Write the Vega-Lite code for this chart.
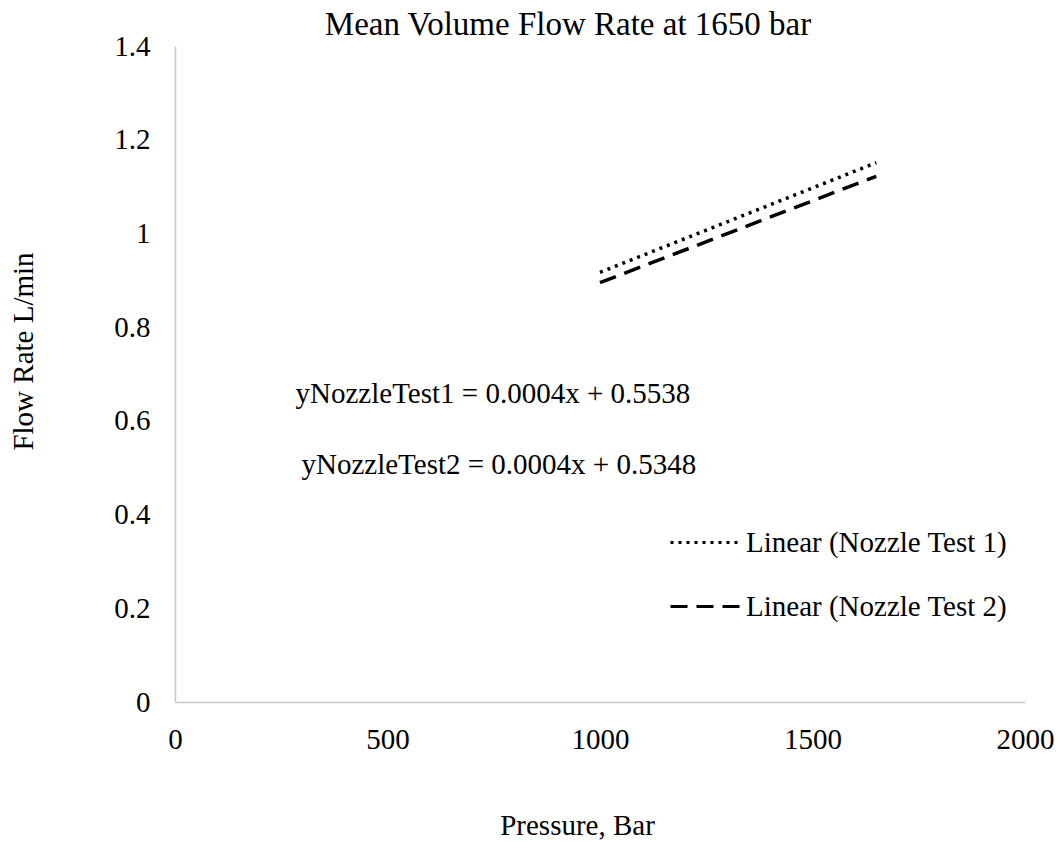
{
  "$schema": "https://vega.github.io/schema/vega-lite/v6.json",
  "width": 850,
  "height": 656,
  "autosize": {"type": "none"},
  "padding": {"left": 175, "top": 46, "right": 35, "bottom": 140},
  "background": "white",
  "config": {
    "font": "Liberation Serif",
    "view": {"stroke": null},
    "axis": {"grid": false, "ticks": false, "domainColor": "#c8c8c8", "domainWidth": 1.5, "labelFont": "Liberation Serif", "labelFontSize": 29, "labelColor": "#000000", "titleFont": "Liberation Serif", "titleFontSize": 29, "titleFontWeight": "normal", "titleColor": "#000000"},
    "legend": {"labelFont": "Liberation Serif", "labelFontSize": 29, "labelColor": "#000000", "labelLimit": 500}
  },
  "title": {"text": "Mean Volume Flow Rate at 1650 bar", "font": "Liberation Serif", "fontSize": 33, "fontWeight": "normal", "color": "#000000", "anchor": "middle", "frame": "group", "baseline": "alphabetic", "offset": -36, "dx": -32},
  "layer": [
    {
      "data": {"values": [
        {"series": "Linear (Nozzle Test 1)", "pressure": 1000, "flow": 0.917},
        {"series": "Linear (Nozzle Test 1)", "pressure": 1650, "flow": 1.151},
        {"series": "Linear (Nozzle Test 2)", "pressure": 1000, "flow": 0.895},
        {"series": "Linear (Nozzle Test 2)", "pressure": 1650, "flow": 1.122}
      ]},
      "mark": {"type": "line", "color": "#000000", "strokeWidth": 3.5},
      "encoding": {
        "x": {"field": "pressure", "type": "quantitative", "scale": {"domain": [0, 2000], "nice": false}, "axis": {"values": [0, 500, 1000, 1500, 2000], "format": "d", "labelFlush": false, "labelPadding": 46, "labelBaseline": "alphabetic", "title": "Pressure, Bar", "titleX": 402, "titleY": 132, "titleAlign": "center", "titleBaseline": "alphabetic"}},
        "y": {"field": "flow", "type": "quantitative", "scale": {"domain": [0, 1.4], "nice": false}, "axis": {"values": [0, 0.2, 0.4, 0.6, 0.8, 1, 1.2, 1.4], "format": "~g", "labelPadding": 25, "labelBaseline": "middle", "title": "Flow Rate L/min", "titleAngle": 270, "titleX": -143, "titleY": 305, "titleAlign": "center", "titleBaseline": "alphabetic"}},
        "strokeDash": {"field": "series", "type": "nominal", "scale": {"domain": ["Linear (Nozzle Test 1)", "Linear (Nozzle Test 2)"], "range": [[3, 5], [17, 9]]}, "legend": {"title": null, "orient": "none", "legendX": 494, "legendY": 460, "symbolType": "stroke", "symbolSize": 4900, "symbolStrokeWidth": 3, "symbolStrokeColor": "#000000", "labelOffset": 4, "rowPadding": 12}}
      }
    },
    {
      "data": {"values": [
        {"label": "yNozzleTest1 = 0.0004x + 0.5538", "px": 748, "py": 0.638},
        {"label": "yNozzleTest2 = 0.0004x + 0.5348", "px": 762, "py": 0.4866}
      ]},
      "mark": {"type": "text", "font": "Liberation Serif", "fontSize": 29, "color": "#000000", "align": "center", "baseline": "alphabetic"},
      "encoding": {
        "x": {"field": "px", "type": "quantitative"},
        "y": {"field": "py", "type": "quantitative"},
        "text": {"field": "label"}
      }
    }
  ]
}
